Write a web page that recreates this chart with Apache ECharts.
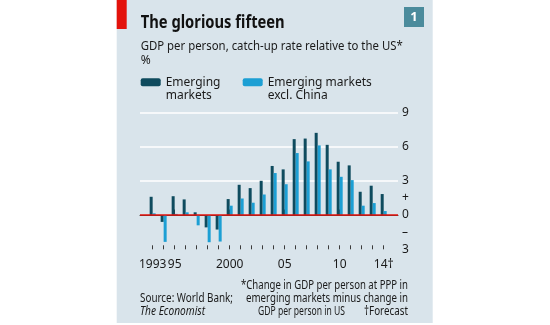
<!DOCTYPE html>
<html>
<head>
<meta charset="utf-8">
<script src="https://cdn.jsdelivr.net/npm/echarts@6/dist/echarts.min.js"></script>
<style>html,body{margin:0;padding:0;background:#fff;}#c{width:550px;height:325px;}</style>
</head>
<body>
<div id="c"></div>
<script>
// ---- data ----
const years = [1993,1994,1995,1996,1997,1998,1999,2000,2001,2002,2003,2004,2005,2006,2007,2008,2009,2010,2011,2012,2013,2014];
const emerging = [1.6,-0.6,1.65,1.37,0.24,-1.08,-1.27,1.4,2.65,2.36,3.0,4.3,4.0,6.65,6.7,7.2,6.15,4.67,4.35,2.04,2.57,1.84];
const exChina = [0.15,-2.35,0.1,0.24,-0.9,-2.38,-2.32,0.82,1.45,1.08,1.8,3.68,2.7,5.43,4.7,6.1,4.0,3.35,3.06,0.82,1.05,0.35];
const xLabelValues = [1993,1995,2000,2005,2010,2014];
const xLabelText = {1993:'1993',1995:'95',2000:'2000',2005:'05',2010:'10',2014:'14\u2020'};
const yLabelText = {'9':'9','6':'6','3':'3','1.5':'+','0':'0','-1.5':'\u2013','-3':'3'};
const seriesNames = ['Emerging markets','Emerging markets excl. China'];
const legendText = {'Emerging markets':'\nEmerging\nmarkets','Emerging markets excl. China':'\nEmerging markets\nexcl. China'};

const FONT = '"Noto Sans", "Open Sans", sans-serif';
const cv = document.createElement('canvas').getContext('2d');
function fit(text, font, target){ cv.font = font; return target / cv.measureText(text).width; }
function txt(text, x, y, size, target, opts){
  opts = opts || {};
  const weight = opts.weight || 'normal';
  const style = opts.italic ? 'italic' : 'normal';
  const font = style + ' ' + weight + ' ' + size + 'px ' + FONT;
  return {
    type:'text', x:x, y:y, z:100,
    scaleX: target ? fit(text, font, target) : 1,
    style:{text:text, font:font, fill: opts.fill || '#1a1a1a',
      align: opts.align || 'left', verticalAlign:'middle'}
  };
}

const chart = echarts.init(document.getElementById('c'), null, {renderer:'canvas'});
const splitColors = ['rgba(0,0,0,0)','rgba(0,0,0,0)','rgba(0,0,0,0)','rgba(0,0,0,0)','#ffffff','rgba(0,0,0,0)','#ffffff','rgba(0,0,0,0)','#ffffff'];

chart.setOption({
  animation:false,
  backgroundColor:'#ffffff',
  graphic:[
    {type:'rect', z:-100, shape:{x:116.7,y:0,width:316,height:323}, style:{fill:'#d9e4eb'}},
    {type:'rect', z:-90, shape:{x:116.7,y:0,width:10,height:29}, style:{fill:'#e3120b'}},
    {type:'rect', z:-90, shape:{x:404,y:7,width:20,height:20}, style:{fill:'#4b8b9c'}},
    {type:'text', x:414, y:17.5, z:100, style:{text:'1', font:'bold 13px '+FONT, fill:'#fff', align:'center', verticalAlign:'middle'}},
    txt('The glorious fifteen', 140.7, 23, 18, 144, {weight:'bold', fill:'#111'}),
    txt('GDP per person, catch-up rate relative to the US*', 140.7, 46, 13, 262),
    txt('%', 140.7, 61, 12, 0),
    txt('*Change in GDP per person at PPP in', 408, 285.5, 12, 167, {align:'right'}),
    txt('emerging markets minus change in', 408, 299, 12, 162, {align:'right'}),
    txt('GDP per person in US', 345, 312, 12, 87, {align:'right'}),
    txt('\u2020Forecast', 408, 312, 12, 44, {align:'right'}),
    txt('Source: World Bank;', 140, 299, 12, 93),
    txt('The Economist', 140, 312, 12, 65, {italic:true})
  ],
  legend:[
    {data:[seriesNames[0]], left:140.7, top:62.7, padding:0, itemWidth:20, itemHeight:8, selectedMode:false,
      formatter:function(n){return legendText[n];},
      textStyle:{fontFamily:FONT, fontSize:12, color:'#1a1a1a', lineHeight:13}},
    {data:[seriesNames[1]], left:242.7, top:62.7, padding:0, itemWidth:20, itemHeight:8, selectedMode:false,
      formatter:function(n){return legendText[n];},
      textStyle:{fontFamily:FONT, fontSize:12, color:'#1a1a1a', lineHeight:13}}
  ],
  grid:{left:140, right:152, top:112.3, bottom:75.7, containLabel:false},
  xAxis:[
    {type:'value', min:1991.85, max:2015.3, position:'bottom',
      axisLine:{show:true, lineStyle:{color:'#3a3a3a', width:1}},
      axisTick:{show:true, inside:true, length:5.5, customValues:[1995,2000,2005,2010], lineStyle:{color:'#3a3a3a', width:1}},
      axisLabel:{show:true, customValues:xLabelValues, margin:9, fontFamily:FONT, fontSize:12, color:'#1a1a1a',
        formatter:function(v){return xLabelText[Math.round(v)] || '';}},
      splitLine:{show:false}},
    {type:'value', min:1991.85, max:2015.3, position:'bottom', offset:0,
      axisLine:{show:false},
      axisTick:{show:true, inside:true, length:4, customValues:years, lineStyle:{color:'#3a3a3a', width:1}},
      axisLabel:{show:false},
      splitLine:{show:false}}
  ],
  yAxis:{type:'value', position:'right', min:-3, max:9, interval:1.5,
    axisLine:{show:false}, axisTick:{show:false},
    axisLabel:{margin:4, fontFamily:FONT, fontSize:12, color:'#1a1a1a',
      formatter:function(v){ const k = String(Math.round(v*10)/10); return yLabelText[k] !== undefined ? yLabelText[k] : ''; }},
    splitLine:{show:true, lineStyle:{color:splitColors, width:1.5}}},
  series:[
    {name:seriesNames[0], type:'bar', xAxisIndex:0, barWidth:3, barGap:'0%',
      itemStyle:{color:'#0f4b5e'},
      data: years.map(function(y,i){return [y, emerging[i]];}),
      markLine:{silent:true, symbol:['none','none'], label:{show:false}, z:10,
        lineStyle:{color:'#e3120b', width:1.5, type:'solid'}, data:[{yAxis:0}]}},
    {name:seriesNames[1], type:'bar', xAxisIndex:0, barWidth:3, barGap:'0%',
      itemStyle:{color:'#1c9fd4'},
      data: years.map(function(y,i){return [y, exChina[i]];})}
  ]
});
</script>
</body>
</html>
